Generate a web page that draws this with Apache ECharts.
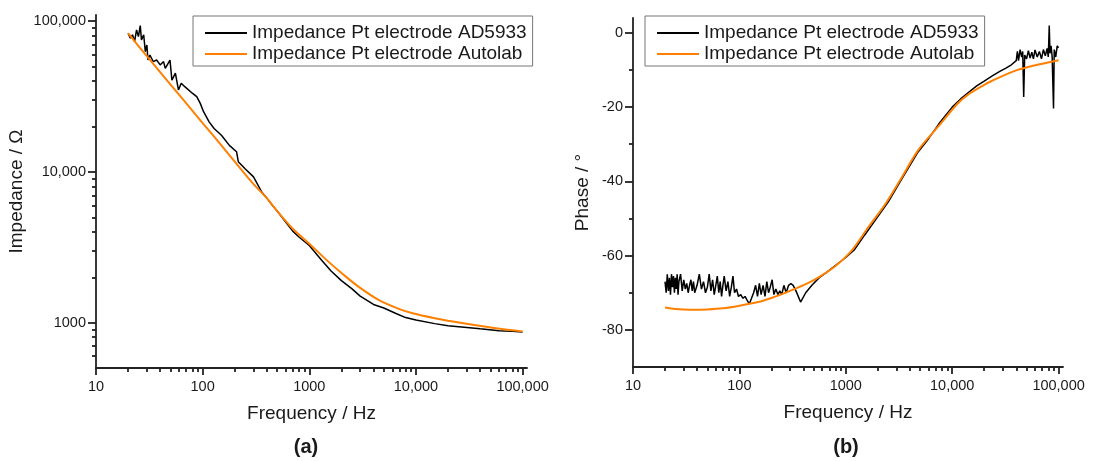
<!DOCTYPE html>
<html>
<head>
<meta charset="utf-8">
<script src="https://cdn.jsdelivr.net/npm/echarts@6/dist/echarts.min.js"></script>
<style>
html,body{margin:0;padding:0;background:#fff}
#main{width:1094px;height:461px}
</style>
</head>
<body>
<div id="main"></div>
<script>
// ---- data ----
// (a) impedance magnitude
var freqAD = [20,21,22,23,24,25,26,26.7,28,29,30,30.7,32,34.4,37,40,43,44.6,49.4,51.5,55.5,59.3,63,68,71,80,88,95,102,115,128,150,178,208,216,250,300,358,400,450,500,600,700,800,1000,1300,1600,2000,2500,3000,4000,5000,6500,8000,10000,15000,20000,30000,40000,60000,80000,100000];
var impAD = [83300,77200,81300,73300,87700,79000,93500,75200,81300,62800,69600,55300,59700,54000,55300,51300,54000,48700,55300,40700,45200,35000,38800,36800,37800,33300,31600,28500,25100,21500,19400,17500,15000,13600,11700,10500,9270,7360,6700,6000,5500,4650,4050,3700,3250,2600,2200,1900,1680,1500,1320,1250,1150,1080,1040,985,955,930,910,885,875,865];
var freqAuto = [20,30,50,70,100,150,200,300,400,500,700,1000,1500,2200,3000,4500,7000,9500,15000,20000,28000,50000,100000];
var impAuto = [83300,58600,38000,28600,21100,15000,11700,8300,6700,5500,4200,3340,2550,2020,1700,1410,1230,1150,1070,1030,990,930,875];

// (b) phase
var phFreqAD = [20,20.5,21,21.5,22,22.5,23,23.5,24,24.5,25,25.5,26,26.5,27,28,29,30,31,32,33,34,35,36,37,38,40,42,44,46,48,50,52,54,56,58,60,62,64,66,68,70,72,75,78,81,84,87,90,94,98,103,108,113,118,124,130,136,142,148,154,160,167,174,181,188,195,203,211,220,230,240,250,262,275,290,305,320,340,376,420,480,560,660,769,1000,1200,1500,2000,2500,3300,4700,6000,7500,10000,12000,14000,17000,20000,24000,28000,32000,36000,40000,41000,42000,43500,45000,46000,47000,48000,50000,52000,54000,56000,58000,60000,63000,66000,69000,72000,75000,78000,80000,81700,83000,85000,87000,89600,91000,94000,97000,100000];
var phaseAD = [-67,-70,-65,-69.5,-66,-70.5,-65,-68.5,-65.5,-70,-66,-69,-65,-70.5,-67,-65,-69.5,-66.5,-69,-67.5,-70,-68,-66.5,-69.5,-67,-70,-68,-65,-69,-67,-70,-68.5,-65,-69.5,-66.5,-70.5,-68,-65.5,-70,-67,-71,-68,-65.5,-69.5,-67,-71,-68.5,-65.5,-70,-69,-71,-70.5,-71.5,-71,-72,-73,-71.5,-70,-68,-71,-67.5,-70.5,-68,-71,-67,-70,-68.5,-66.5,-70.5,-69,-70.5,-69.5,-70.5,-68,-70,-68,-67.5,-68,-69.5,-72.5,-70,-68,-66,-64.5,-63,-60.5,-58.5,-54.5,-49.5,-45.6,-39.7,-32.4,-28.5,-24.5,-20,-17.8,-16.2,-14.3,-13,-11.5,-10.4,-9.5,-8.6,-7.5,-5,-7.5,-4.5,-6.5,-5,-17.3,-6,-7,-4.8,-6.8,-5.2,-7,-4.6,-6.5,-5,-7,-4.5,-6.2,-4.2,-6.5,2,-5.5,-3.5,-6.5,-20.4,-4.5,-6.5,-3.5,-4];
var phFreqAuto = [20,25,35,50,70,100,150,200,270,350,450,560,800,1140,1630,2330,3300,4760,7300,11200,14000,20000,23000,40000,100000];
var phaseAuto = [-74,-74.4,-74.6,-74.5,-74.2,-73.5,-72.5,-71.4,-70,-68.7,-67.3,-65.8,-62.8,-58.6,-52.3,-46.3,-39.3,-31.7,-25.4,-19.1,-16.7,-14,-13.1,-10.1,-7.4];

// tick values
var freqTicks = [10,100,1000,10000,100000];
var freqMinor = [20,30,40,50,60,70,80,90,200,300,400,500,600,700,800,900,2000,3000,4000,5000,6000,7000,8000,9000,20000,30000,40000,50000,60000,70000,80000,90000];
var impTicks = [1000,10000,100000];
var impMinor = [600,700,800,900,2000,3000,4000,5000,6000,7000,8000,9000,20000,30000,40000,50000,60000,70000,80000,90000];
var phaseTicks = [0,-20,-40,-60,-80];
var phaseMinor = [-10,-30,-50,-70];

var nameAD = 'Impedance Pt electrode AD5933';
var nameAuto = 'Impedance Pt electrode Autolab';

function zip(a, b) {
    var out = [];
    for (var i = 0; i < a.length; i++) out.push([a[i], b[i]]);
    return out;
}
function fmtNum(v) {
    v = Math.round(v);
    return v >= 10000 ? v.toLocaleString('en-US') : String(v);
}

var axisColor = '#222';
var lineSt = {color: axisColor, width: 1.8};
var labelColor = '#1a1a1a';
var labelSize = 14.5;
var nameSt = {color: '#1a1a1a', fontSize: 19};

function mainAxis(extra) {
    var a = {
        axisLine: {show: true, onZero: false, lineStyle: lineSt},
        splitLine: {show: false},
        nameLocation: 'middle',
        nameTextStyle: nameSt
    };
    for (var k in extra) a[k] = extra[k];
    return a;
}
function minorAxis(extra) {
    var a = {
        axisLine: {show: false, onZero: false},
        axisLabel: {show: false},
        splitLine: {show: false}
    };
    for (var k in extra) a[k] = extra[k];
    return a;
}

var chart = echarts.init(document.getElementById('main'));

var option = {
    animation: false,
    textStyle: {fontFamily: 'Liberation Sans, Arial, sans-serif'},
    grid: [
        {left: 96, top: 15, width: 431, height: 353, outerBoundsMode: 'none', containLabel: false},
        {left: 633, top: 18, width: 430, height: 349, outerBoundsMode: 'none', containLabel: false}
    ],
    xAxis: [
        mainAxis({gridIndex: 0, type: 'log', min: 10, max: 110000, position: 'bottom',
            axisTick: {customValues: freqTicks, length: 7, lineStyle: lineSt},
            axisLabel: {customValues: freqTicks, formatter: fmtNum, color: labelColor, fontSize: labelSize, margin: 11},
            name: 'Frequency / Hz', nameGap: 36}),
        minorAxis({gridIndex: 0, type: 'log', min: 10, max: 110000, position: 'bottom',
            axisTick: {show: true, customValues: freqMinor, length: 4, lineStyle: lineSt}}),
        mainAxis({gridIndex: 1, type: 'log', min: 10, max: 110000, position: 'bottom',
            axisTick: {customValues: freqTicks, length: 7, lineStyle: lineSt},
            axisLabel: {customValues: freqTicks, formatter: fmtNum, color: labelColor, fontSize: labelSize, margin: 11},
            name: 'Frequency / Hz', nameGap: 36}),
        minorAxis({gridIndex: 1, type: 'log', min: 10, max: 110000, position: 'bottom',
            axisTick: {show: true, customValues: freqMinor, length: 4, lineStyle: lineSt}})
    ],
    yAxis: [
        mainAxis({gridIndex: 0, type: 'log', min: 500, max: 110000, position: 'left',
            axisTick: {customValues: impTicks, length: 8, lineStyle: lineSt},
            axisLabel: {customValues: impTicks, formatter: fmtNum, color: labelColor, fontSize: labelSize, margin: 10},
            name: 'Impedance / Ω', nameGap: 70}),
        minorAxis({gridIndex: 0, type: 'log', min: 500, max: 110000, position: 'left',
            axisTick: {show: true, customValues: impMinor, length: 4, lineStyle: lineSt}}),
        mainAxis({gridIndex: 1, type: 'value', min: -90, max: 4, interval: 10, position: 'left',
            axisTick: {customValues: phaseTicks, length: 8, lineStyle: lineSt},
            axisLabel: {customValues: phaseTicks, color: labelColor, fontSize: labelSize, margin: 10},
            name: 'Phase / °', nameGap: 41}),
        minorAxis({gridIndex: 1, type: 'value', min: -90, max: 4, interval: 10, position: 'left',
            axisTick: {show: true, customValues: phaseMinor, length: 4, lineStyle: lineSt}})
    ],
    legend: [
        {left: 193, top: 16, orient: 'vertical', selectedMode: false,
         data: [nameAD, nameAuto], icon: 'rect', itemWidth: 42, itemHeight: 2, itemGap: 1,
         padding: [7, 6, 2, 12], borderColor: '#777', borderWidth: 1,
         textStyle: {fontSize: 19, color: '#1a1a1a', lineHeight: 20}},
        {left: 645, top: 16, orient: 'vertical', selectedMode: false,
         data: [nameAD, nameAuto], icon: 'rect', itemWidth: 42, itemHeight: 2, itemGap: 1,
         padding: [7, 6, 2, 12], borderColor: '#777', borderWidth: 1,
         textStyle: {fontSize: 19, color: '#1a1a1a', lineHeight: 20}}
    ],
    graphic: [
        {type: 'text', x: 306, y: 447, style: {text: '(a)', fontSize: 20, fontWeight: 'bold', fill: '#1a1a1a', align: 'center', verticalAlign: 'middle', fontFamily: 'Liberation Sans, Arial, sans-serif'}},
        {type: 'text', x: 846, y: 447, style: {text: '(b)', fontSize: 20, fontWeight: 'bold', fill: '#1a1a1a', align: 'center', verticalAlign: 'middle', fontFamily: 'Liberation Sans, Arial, sans-serif'}}
    ],
    series: [
        {name: nameAD, type: 'line', xAxisIndex: 0, yAxisIndex: 0, data: zip(freqAD, impAD),
         showSymbol: false, color: '#000', lineStyle: {color: '#000', width: 1.5}, z: 3},
        {name: nameAuto, type: 'line', xAxisIndex: 0, yAxisIndex: 0, data: zip(freqAuto, impAuto),
         showSymbol: false, smooth: 0.3, color: '#FF8000', lineStyle: {color: '#FF8000', width: 2}, z: 4},
        {name: nameAD, type: 'line', xAxisIndex: 2, yAxisIndex: 2, data: zip(phFreqAD, phaseAD),
         showSymbol: false, color: '#000', lineStyle: {color: '#000', width: 1.5}, z: 3},
        {name: nameAuto, type: 'line', xAxisIndex: 2, yAxisIndex: 2, data: zip(phFreqAuto, phaseAuto),
         showSymbol: false, smooth: 0.3, color: '#FF8000', lineStyle: {color: '#FF8000', width: 2}, z: 4}
    ]
};

chart.setOption(option);
</script>
</body>
</html>
